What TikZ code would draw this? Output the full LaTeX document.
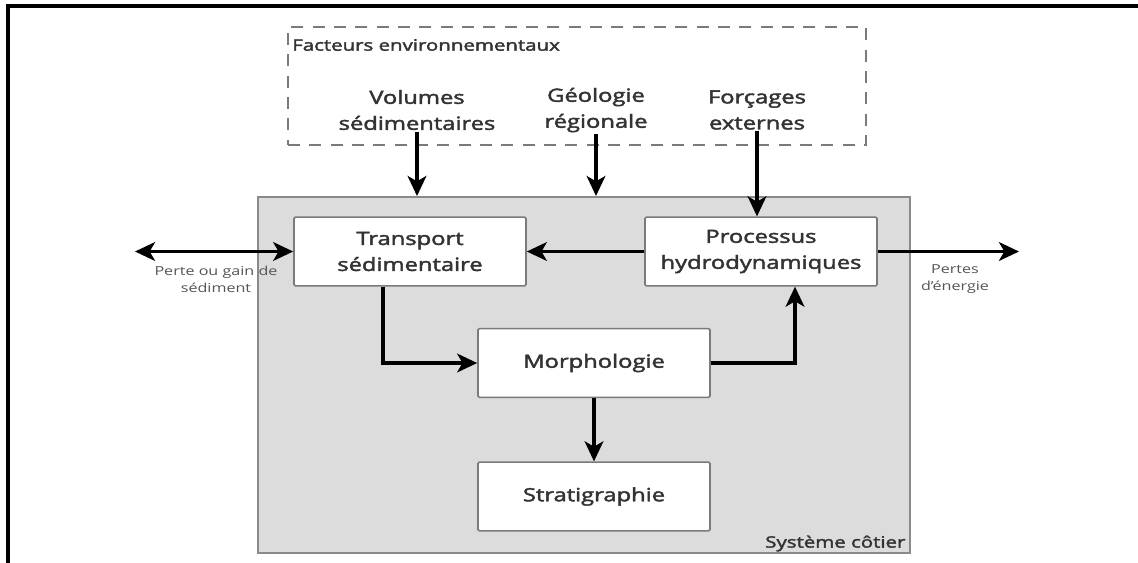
\documentclass[tikz,border=0pt]{standalone}
\usepackage{fontspec}
\setmainfont{Open Sans}
\newfontfamily\semib{Open Sans}[FakeBold=2]
\usepackage{graphicx}
\usetikzlibrary{arrows.meta}
\definecolor{txt}{HTML}{333333}
\definecolor{labtxt}{HTML}{555555}
\definecolor{boxline}{HTML}{7A7A7A}
\definecolor{sysfill}{HTML}{DCDCDC}
\definecolor{sysline}{HTML}{8A8A8A}
\newcommand{\wt}[1]{\scalebox{1.3}[1]{#1}}
\newcommand{\myBig}{\semib\fontsize{13.7}{19.5}\selectfont}
\newcommand{\myMid}{\semib\fontsize{11.8}{14}\selectfont}
\newcommand{\mySmall}{\fontsize{9.3}{12.7}\selectfont}
\begin{document}
\begin{tikzpicture}[x=0.75pt,y=-0.75pt,
  every node/.style={text=txt},
  box/.style={draw=boxline, fill=white, line width=1.2pt, rounded corners=1pt,
    minimum width=174pt, minimum height=51.5pt, inner sep=0pt, align=center, font=\myBig},
  factor/.style={align=center, font=\myBig, inner sep=1pt},
  lab/.style={align=center, font=\mySmall, text=labtxt, inner sep=0pt},
  arr/.style={line width=2.6pt, -{Stealth[length=15pt,width=14pt,inset=4pt]}},
  darr/.style={line width=2.6pt, {Stealth[length=15pt,width=14pt,inset=4pt]}-{Stealth[length=15pt,width=14pt,inset=4pt]}}]
\useasboundingbox (0,0) rectangle (1138,562);
\fill[white] (0,0) rectangle (1138,562);
% outer frame
\draw[line width=2.4pt, line cap=rect] (8,562) -- (8,6) -- (1138,6);

% environmental factors (dashed box)
\node[draw=boxline, dashed, dash pattern=on 9pt off 7pt, line width=1.1pt,
  minimum width=433.5pt, minimum height=88.5pt, inner sep=0pt] (env) at (577,86) {};
\node[anchor=west, font=\myMid, inner sep=0pt] (envlab) at (292,45) {\wt{Facteurs environnementaux}};
\node[factor] (vol) at (417,110) {\wt{Volumes}\\\wt{sédimentaires}};
\node[factor] (geo) at (596,110) {\wt{Géologie}\\\wt{régionale}};
\node[factor] (forc) at (757,110) {\wt{Forçages}\\\wt{externes}};

% coastal system
\node[draw=sysline, fill=sysfill, line width=1.5pt, minimum width=489pt, minimum height=267pt, inner sep=0pt] (sys) at (584,375) {};
\node[anchor=south east, font=\myMid, inner sep=1pt] (syslab) at (907,553) {\wt{Système côtier}};

\node[box] (trans) at (410,251.5) {\wt{Transport}\\\wt{sédimentaire}};
\node[box] (proc) at (761,251.5) {\wt{Processus}\\\wt{hydrodynamiques}};
\node[box] (morph) at (594,363) {\wt{Morphologie}};
\node[box] (strat) at (594,496.5) {\wt{Stratigraphie}};

\coordinate (lft) at (135,251.5);
\coordinate (rgt) at (1019,251.5);
\coordinate (tm) at (383,363);
\coordinate (mp) at (795,363);

% arrows from factors
\draw[arr] (vol.south) -- (vol.south |- sys.north);
\draw[arr] (geo.south) -- (geo.south |- sys.north);
\draw[arr] (forc.south) -- (forc.south |- proc.north);

% internal arrows
\draw[darr] (lft) -- (trans.west);
\draw[arr] (proc.west) -- (trans.east);
\draw[arr] (proc.east) -- (rgt);
\draw[arr] (trans.south -| tm) |- (morph.west);
\draw[arr] (morph.east) -| (mp |- proc.south);
\draw[arr] (morph.south) -- (strat.north);

% side labels
\node[lab] (perte) at (216,279) {\wt{Perte ou gain de}\\\wt{sédiment}};
\node[lab] (pertes) at (955,279) {\wt{Pertes}\\\wt{d'énergie}};
\end{tikzpicture}
\end{document}
